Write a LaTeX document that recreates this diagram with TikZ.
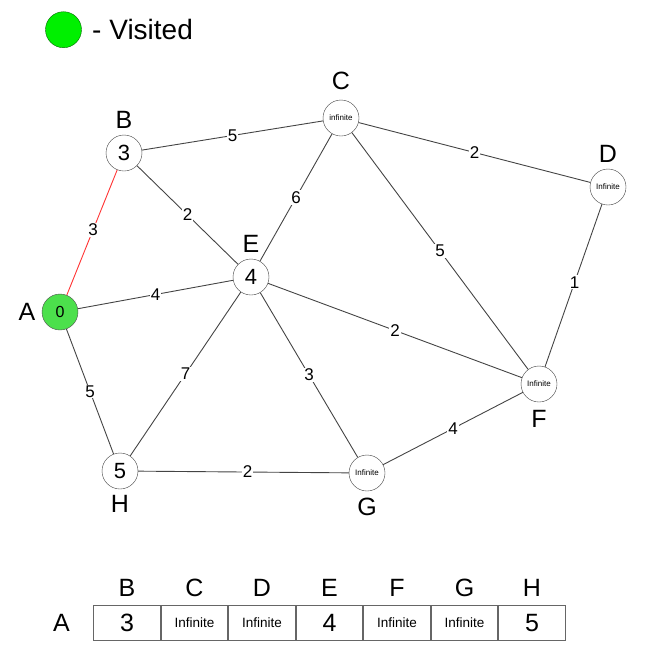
\documentclass[tikz,border=0pt]{standalone}
\usepackage{fontspec}
\setmainfont{Liberation Sans}
\usetikzlibrary{positioning}
\definecolor{visited}{HTML}{4CE04C}
\definecolor{legendgreen}{HTML}{00F000}
\definecolor{edgegray}{HTML}{444444}
\tikzstyle{vertex} = [circle, draw=black!75, fill=white, minimum size=36pt, inner sep=0pt, font=\fontsize{22}{22}\selectfont]
\tikzstyle{unknown} = [vertex, font=\fontsize{8}{8}\selectfont]
\tikzstyle{done} = [vertex, fill=visited, draw=black!70, font=\fontsize{16}{16}\selectfont]
\tikzstyle{edge} = [draw=edgegray, line width=0.9pt]
\tikzstyle{shortest} = [draw=red!80, line width=0.9pt]
\tikzstyle{weight} = [fill=white, inner sep=1pt, font=\fontsize{17}{17}\selectfont]
\tikzstyle{cell} = [rectangle, draw=black!60, line width=0.9pt, minimum width=66.6pt, minimum height=35pt, inner sep=0pt, font=\fontsize{25}{25}\selectfont]
\tikzstyle{smallcell} = [cell, font=\fontsize{13.5}{14}\selectfont]
\tikzstyle{head} = [font=\fontsize{25}{25}\selectfont]

\begin{document}
\begin{tikzpicture}[x=1pt, y=-1pt, every label/.style={font=\fontsize{25}{25}\selectfont}, label distance=3pt]
  \useasboundingbox (0,0) rectangle (653,665);

  % Legend
  \node (legend) [vertex, fill=legendgreen, draw=black!60!green] at (63.5,29.7) {};
  \node (legend_text) [right=7pt of legend, font=\fontsize{28}{28}\selectfont] {- Visited};

  % Vertices
  \node (A) [done, label=left:A] at (60,312) {0};
  \node (B) [vertex, label=above:B] at (124,153) {3};
  \node (C) [unknown, label={[label distance=7pt]above:C}] at (341,118) {infinite};
  \node (D) [unknown, label=above:D] at (608,187) {Infinite};
  \node (E) [vertex, label=above:E] at (251,277) {4};
  \node (F) [unknown, label={[label distance=5pt]below:F}] at (539,384) {Infinite};
  \node (G) [unknown, label=below:G] at (367,473) {Infinite};
  \node (H) [vertex, label=below:H] at (120,471) {5};

  % Edges
  \draw[shortest] (A) -- node[weight, pos=0.52] {3} (B);
  \draw[edge] (B) -- node[weight] {5} (C);
  \draw[edge] (C) -- node[weight] {2} (D);
  \draw[edge] (B) -- node[weight] {2} (E);
  \draw[edge] (E) -- node[weight] {6} (C);
  \draw[edge] (C) -- node[weight] {5} (F);
  \draw[edge] (D) -- node[weight, pos=0.48] {1} (F);
  \draw[edge] (A) -- node[weight] {4} (E);
  \draw[edge] (E) -- node[weight] {2} (F);
  \draw[edge] (A) -- node[weight] {5} (H);
  \draw[edge] (E) -- node[weight] {7} (H);
  \draw[edge] (E) -- node[weight] {3} (G);
  \draw[edge] (F) -- node[weight] {4} (G);
  \draw[edge] (H) -- node[weight, pos=0.52] {2} (G);

  % Distance table
  \node (cell_B) [cell] at (127,623) {3};
  \node (cell_C) [smallcell, right=0pt of cell_B] {Infinite};
  \node (cell_D) [smallcell, right=0pt of cell_C] {Infinite};
  \node (cell_E) [cell, right=0pt of cell_D] {4};
  \node (cell_F) [smallcell, right=0pt of cell_E] {Infinite};
  \node (cell_G) [smallcell, right=0pt of cell_F] {Infinite};
  \node (cell_H) [cell, right=0pt of cell_G] {5};
  \node (row_A) [head, left=20pt of cell_B] {A};

  % Table headers
  \node (head_B) [head, above=5pt of cell_B] {B};
  \node (head_C) [head, above=5pt of cell_C] {C};
  \node (head_D) [head, above=5pt of cell_D] {D};
  \node (head_E) [head, above=5pt of cell_E] {E};
  \node (head_F) [head, above=5pt of cell_F] {F};
  \node (head_G) [head, above=5pt of cell_G] {G};
  \node (head_H) [head, above=5pt of cell_H] {H};

\end{tikzpicture}
\end{document}
